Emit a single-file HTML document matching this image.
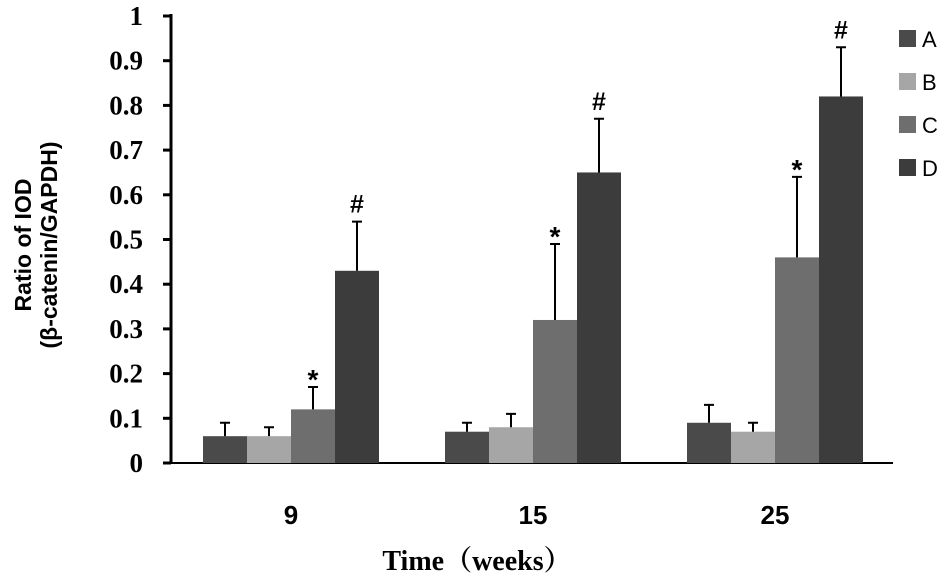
<!DOCTYPE html>
<html><head><meta charset="utf-8"><style>body{margin:0;background:#fff}</style></head><body>
<svg id="c" width="945" height="579" xmlns="http://www.w3.org/2000/svg"></svg>
<script>
const categories=["9","15","25"];
const seriesNames=["A","B","C","D"];
const values=[[0.06,0.06,0.12,0.43],[0.07,0.08,0.32,0.65],[0.09,0.07,0.46,0.82]];
const errors=[[0.03,0.02,0.05,0.11],[0.02,0.03,0.17,0.12],[0.04,0.02,0.18,0.11]];
const marks=[["","","*","#"],["","","*","#"],["","","*","#"]];
const yTicks=[0,0.1,0.2,0.3,0.4,0.5,0.6,0.7,0.8,0.9,1];
const yTickLabels=["0","0.1","0.2","0.3","0.4","0.5","0.6","0.7","0.8","0.9","1"];
const colors=["#4a4a4a","#a6a6a6","#6e6e6e","#3c3c3c"];
const svg=document.getElementById('c');const NS="http://www.w3.org/2000/svg";
const y0=463,yScale=447;const y=v=>y0-v*yScale;
const gx=i=>203+i*242, bw=44;
function mk(t,a,p){const e=document.createElementNS(NS,t);for(const k in a)e.setAttribute(k,a[k]);(p||svg).appendChild(e);return e;}
let e;
e=mk('line',{x1:171,y1:y(1)-2,x2:171,y2:y0+1,stroke:'#000','stroke-width':3});


e=mk('line',{x1:170,y1:y0,x2:893,y2:y0,stroke:'#000','stroke-width':2});


yTicks.forEach((v,i)=>{
 e=mk('line',{x1:163,y1:y(v),x2:171,y2:y(v),stroke:'#000','stroke-width':3});
 
 
 e=mk('text',{x:143,y:y(v)+9,'text-anchor':'end','font-family':'Liberation Serif, serif','font-weight':'bold','font-size':27});
 e.textContent=yTickLabels[i];
 
 
});
categories.forEach((c,i)=>{
 values[i].forEach((v,j)=>{
  const x=gx(i)+j*bw;
  e=mk('rect',{x:x,y:y(v),width:bw,height:y0-y(v),fill:colors[j]});
  
  
  const cx=x+bw/2,top=y(v+errors[i][j]);
  e=mk('path',{d:`M${cx},${y(v)}V${top}M${cx-5},${top}H${cx+5}`,stroke:'#000','stroke-width':2,fill:'none'});
  
  
  if(marks[i][j]){
   e=mk('text',{x:cx,y:top-(marks[i][j]=='*'?-2:9),'text-anchor':'middle','font-family':'Liberation Sans, sans-serif','font-weight':'bold','font-size':marks[i][j]=='*'?28:25});
   e.textContent=marks[i][j];
   
   
  }
 });
 e=mk('text',{x:gx(i)+2*bw,y:524,'text-anchor':'middle','font-family':'Liberation Sans, sans-serif','font-weight':'bold','font-size':26});
 e.textContent=c;
 
 
});
seriesNames.forEach((s,j)=>{
 const ly=30+j*43;
 e=mk('rect',{x:899,y:ly,width:17,height:17,fill:colors[j]});
 
 
 e=mk('text',{x:922,y:ly+17,'font-family':'Liberation Sans, sans-serif','font-size':22});
 e.textContent=s;
 
 
});
e=mk('text',{x:477,y:570,'text-anchor':'middle','font-family':'Liberation Serif, Noto Serif CJK SC, serif','font-weight':'bold','font-size':28});
e.textContent='Time（weeks）';


const g=mk('g',{transform:'translate(36,245) rotate(-90)'});


e=mk('text',{x:0,y:-5,'text-anchor':'middle','font-family':'Liberation Sans, sans-serif','font-weight':'bold','font-size':23},g);e.textContent='Ratio of IOD';
e=mk('text',{x:0,y:21,'text-anchor':'middle','font-family':'Liberation Sans, sans-serif','font-weight':'bold','font-size':23},g);e.textContent='(β-catenin/GAPDH)';
</script>
</body></html>
